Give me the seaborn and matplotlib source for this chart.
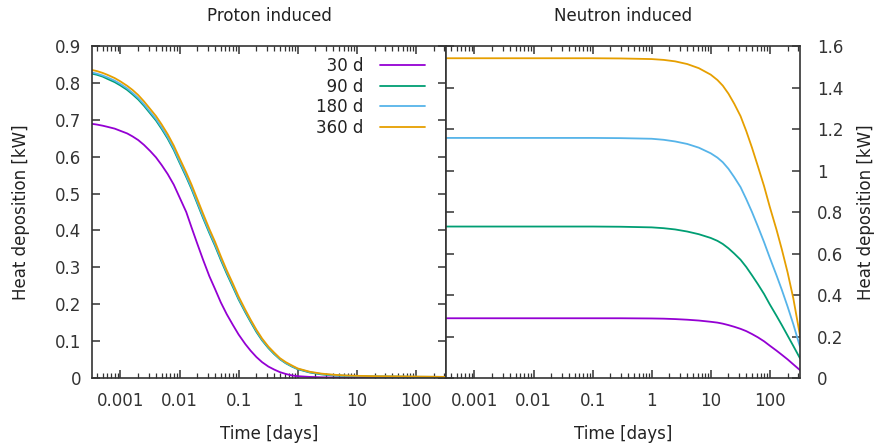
import numpy as np
import pandas as pd
import matplotlib
matplotlib.use("Agg")
import matplotlib.pyplot as plt
import matplotlib.ticker as mticker
import seaborn as sns

# --- data ---
irradiation = ["30 d", "90 d", "180 d", "360 d"]
colors = ["#9400D3", "#009E73", "#56B4E9", "#E69F00"]

t_proton = [3.3e-4, 4e-4, 5e-4, 6e-4, 8e-4, 0.001, 0.0013, 0.0016, 0.002, 0.0025,
            0.0032, 0.004, 0.005, 0.0063, 0.008, 0.01, 0.013, 0.016, 0.02, 0.025,
            0.032, 0.04, 0.05, 0.063, 0.08, 0.1, 0.13, 0.16, 0.2, 0.25,
            0.32, 0.4, 0.5, 0.63, 0.8, 1, 1.6, 2.5, 4, 6.3,
            10, 20, 50, 100, 200, 325]
p_30 = [0.689, 0.687, 0.684, 0.681, 0.676, 0.670, 0.663, 0.655, 0.645, 0.632,
        0.615, 0.598, 0.577, 0.553, 0.524, 0.490, 0.450, 0.408, 0.364, 0.321,
        0.276, 0.241, 0.205, 0.173, 0.144, 0.118, 0.092, 0.074, 0.057, 0.043,
        0.031, 0.023, 0.016, 0.011, 0.007, 0.005, 0.003, 0.002, 0.0015, 0.001,
        0.001, 0.0008, 0.0006, 0.0005, 0.0004, 0.0003]
p_90 = [0.825, 0.822, 0.817, 0.811, 0.802, 0.793, 0.781, 0.769, 0.755, 0.738,
        0.717, 0.698, 0.675, 0.649, 0.618, 0.584, 0.545, 0.512, 0.473, 0.434,
        0.393, 0.358, 0.320, 0.283, 0.247, 0.213, 0.178, 0.152, 0.125, 0.102,
        0.081, 0.065, 0.051, 0.040, 0.031, 0.024, 0.015, 0.010, 0.007, 0.006,
        0.005, 0.004, 0.0035, 0.003, 0.003, 0.0025]
p_180 = [0.828, 0.825, 0.820, 0.815, 0.806, 0.797, 0.785, 0.773, 0.759, 0.742,
         0.721, 0.702, 0.679, 0.653, 0.622, 0.588, 0.549, 0.516, 0.477, 0.438,
         0.397, 0.362, 0.324, 0.287, 0.251, 0.216, 0.181, 0.155, 0.128, 0.104,
         0.083, 0.067, 0.052, 0.041, 0.032, 0.025, 0.016, 0.011, 0.008, 0.0065,
         0.0055, 0.0045, 0.004, 0.0035, 0.0032, 0.003]
p_360 = [0.835, 0.832, 0.827, 0.822, 0.813, 0.804, 0.792, 0.781, 0.767, 0.750,
         0.729, 0.710, 0.687, 0.661, 0.630, 0.596, 0.557, 0.524, 0.485, 0.446,
         0.404, 0.369, 0.330, 0.292, 0.256, 0.221, 0.185, 0.158, 0.131, 0.107,
         0.085, 0.069, 0.054, 0.043, 0.034, 0.026, 0.017, 0.012, 0.009, 0.007,
         0.006, 0.005, 0.0045, 0.004, 0.0035, 0.003]

t_neutron = [3.3e-4, 0.001, 0.01, 0.1, 0.3, 1, 1.6, 2.5, 4, 6.3,
             10, 13, 16, 20, 25, 32, 40, 50, 63, 80,
             100, 130, 160, 200, 250, 325]
n_30 = [0.288, 0.288, 0.288, 0.288, 0.288, 0.287, 0.286, 0.284, 0.281, 0.277,
        0.271, 0.267, 0.262, 0.255, 0.247, 0.237, 0.226, 0.212, 0.196, 0.177,
        0.156, 0.132, 0.112, 0.090, 0.066, 0.038]
n_90 = [0.730, 0.730, 0.730, 0.730, 0.729, 0.726, 0.722, 0.716, 0.706, 0.693,
        0.675, 0.661, 0.646, 0.625, 0.600, 0.570, 0.535, 0.495, 0.452, 0.405,
        0.355, 0.300, 0.255, 0.205, 0.155, 0.095]
n_180 = [1.157, 1.157, 1.157, 1.157, 1.156, 1.153, 1.148, 1.140, 1.128, 1.110,
         1.083, 1.062, 1.040, 1.008, 0.968, 0.920, 0.862, 0.800, 0.730, 0.655,
         0.580, 0.495, 0.425, 0.345, 0.260, 0.150]
n_360 = [1.541, 1.541, 1.541, 1.541, 1.540, 1.537, 1.533, 1.526, 1.513, 1.493,
         1.462, 1.436, 1.409, 1.370, 1.322, 1.262, 1.190, 1.110, 1.020, 0.925,
         0.825, 0.715, 0.620, 0.510, 0.385, 0.205]

# long-form tables for seaborn
proton = pd.concat([pd.DataFrame({"time": t_proton, "heat": v, "irr": lab})
                    for v, lab in zip([p_30, p_90, p_180, p_360], irradiation)])
neutron = pd.concat([pd.DataFrame({"time": t_neutron, "heat": v, "irr": lab})
                     for v, lab in zip([n_30, n_90, n_180, n_360], irradiation)])

sns.set_theme(style="white")
plt.rcParams["font.family"] = ["DejaVu Sans"]
plt.rcParams["axes.edgecolor"] = "#333333"
plt.rcParams["axes.linewidth"] = 1.2
plt.rcParams["text.color"] = "#222222"
plt.rcParams["axes.labelcolor"] = "#222222"
plt.rcParams["xtick.color"] = "#333333"
plt.rcParams["ytick.color"] = "#333333"

palette = dict(zip(irradiation, colors))

fig = plt.figure(figsize=(8.77, 4.44), dpi=100)
ax1 = fig.add_axes([0.1049, 0.1486, 0.4037, 0.7478])
ax2 = fig.add_axes([0.5086, 0.1486, 0.4036, 0.7478])

sns.lineplot(data=proton, x="time", y="heat", hue="irr", palette=palette,
             hue_order=irradiation, linewidth=1.3, legend=False, ax=ax1)
sns.lineplot(data=neutron, x="time", y="heat", hue="irr", palette=palette,
             hue_order=irradiation, linewidth=1.3, legend=False, ax=ax2)

for ax in (ax1, ax2):
    ax.set_xscale("log")
    ax.set_xlim(3.3e-4, 325)
    ax.xaxis.set_major_locator(mticker.FixedLocator([1e-3, 1e-2, 1e-1, 1, 10, 100]))
    ax.xaxis.set_major_formatter(mticker.FuncFormatter(lambda v, p: "%g" % v))
    ax.xaxis.set_minor_locator(mticker.LogLocator(base=10, subs=np.arange(2, 10), numticks=20))
    ax.xaxis.set_minor_formatter(mticker.NullFormatter())
    ax.tick_params(which="both", direction="in", top=True, bottom=True,
                   left=True, right=True, labelsize=12)
    ax.tick_params(axis="x", pad=10)
    ax.tick_params(which="major", length=6, width=1.1)
    ax.tick_params(which="minor", length=3.5, width=0.9)
    ax.set_xlabel("Time [days]", fontsize=12, labelpad=11)
    ax.yaxis.set_major_formatter(mticker.FuncFormatter(lambda v, p: "%g" % round(v, 2)))

ax1.set_ylim(0, 0.9)
ax1.yaxis.set_major_locator(mticker.MultipleLocator(0.1))
ax1.tick_params(axis="y", pad=8)
ax1.set_ylabel("Heat deposition [kW]", fontsize=12, labelpad=18)

ax2.set_ylim(0, 1.6)
ax2.yaxis.set_major_locator(mticker.MultipleLocator(0.2))
ax2.yaxis.set_label_position("right")
ax2.tick_params(axis="y", labelleft=False, labelright=True, pad=12)
ax2.set_ylabel("Heat deposition [kW]", fontsize=12, labelpad=10)

ax1.set_title("Proton induced", fontsize=12, pad=18)
ax2.set_title("Neutron induced", fontsize=12, pad=18)

# gnuplot-style key: right-aligned labels before the sample lines
# (figure space U+2007 has digit width, so the short labels line up on the right)
key_labels = ["\u2007" + lab if len(lab) == 4 else lab for lab in irradiation]
handles = ax1.get_lines()[:4]
ax1.legend(handles, key_labels, loc="upper right", bbox_to_anchor=(0.97, 0.996),
           frameon=False, markerfirst=False, fontsize=12, handlelength=2.7,
           handletextpad=1.0, labelspacing=0.15, borderaxespad=0.2)

fig.savefig("out.png", dpi=100)
